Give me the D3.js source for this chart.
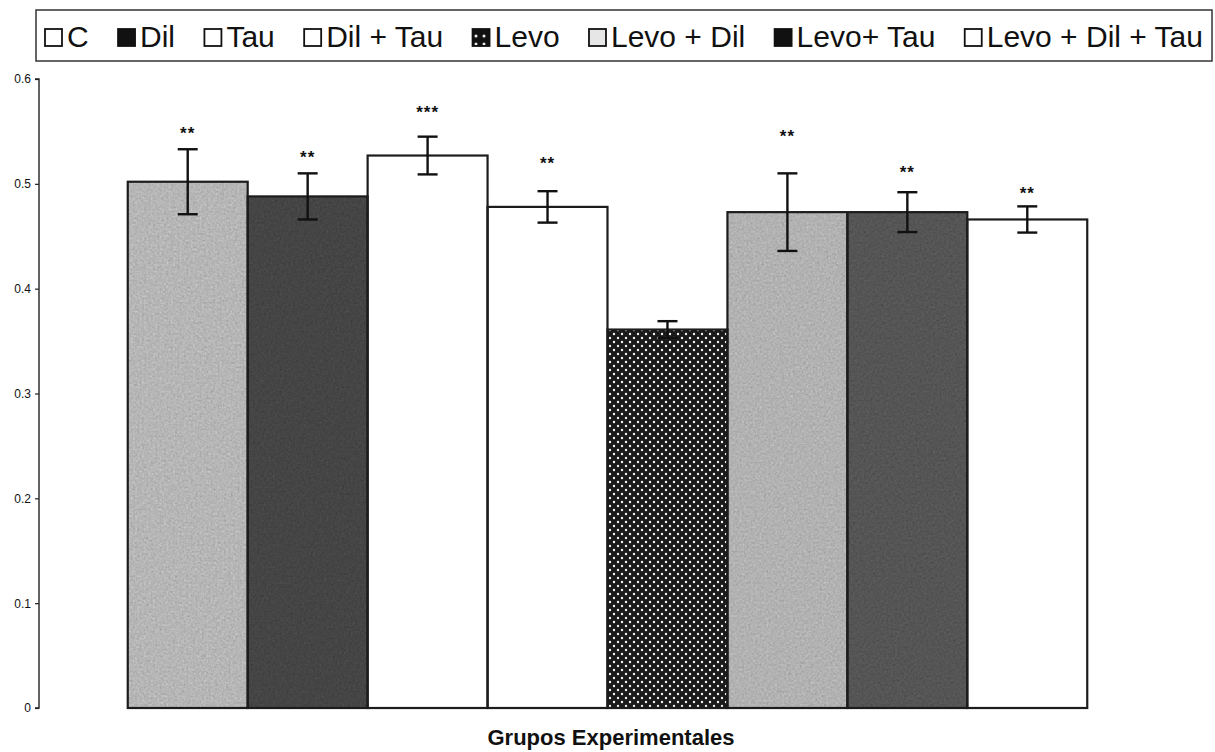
<!DOCTYPE html>
<html>
<head>
<meta charset="utf-8">
<script src="https://cdn.jsdelivr.net/npm/d3@7"></script>
<style>
  html, body { margin: 0; padding: 0; background: #fff; }
  svg { display: block; font-family: "Liberation Sans", Arial, sans-serif; }
</style>
</head>
<body>
<svg id="chart" width="1215" height="752"></svg>
<script>
// ---- data ----
const categories = ["C", "Dil", "Tau", "Dil + Tau", "Levo", "Levo + Dil", "Levo+ Tau", "Levo + Dil + Tau"];
const means      = [0.502, 0.488, 0.527, 0.478, 0.361, 0.473, 0.473, 0.466];
const errors     = [0.031, 0.022, 0.018, 0.015, 0.008, 0.037, 0.019, 0.0125];
const sigLabels  = ["**", "**", "***", "**", "", "**", "**", "**"];
const sigHeights = [0.553, 0.530, 0.573, 0.525, null, 0.550, 0.516, 0.496];
const yTicks     = [0, 0.1, 0.2, 0.3, 0.4, 0.5, 0.6];
const xTitle     = "Grupos Experimentales";

// ---- styles (per category) ----
const baseCols    = ["#b6b6b6", "#454545", "#ffffff", "#ffffff", null, "#b2b2b2", "#555555", "#ffffff"];
const filterIds   = ["nC", "nDil", null, null, null, "nLD", "nLT", null];
const legendFills = ["#ffffff", "#111111", "#ffffff", "#ffffff", "url(#dotsSmall)", "#e6e6e6", "#111111", "#ffffff"];

const svg = d3.select("#chart");
const defs = svg.append("defs");

// noise textures
function noisy(id, amp, freq, seed) {
  const f = defs.append("filter").attr("id", id)
    .attr("x", 0).attr("y", 0).attr("width", 1).attr("height", 1)
    .attr("color-interpolation-filters", "sRGB");
  f.append("feTurbulence").attr("type", "fractalNoise").attr("baseFrequency", freq)
    .attr("numOctaves", 3).attr("seed", seed).attr("result", "noise");
  f.append("feColorMatrix").attr("in", "noise").attr("type", "matrix")
    .attr("values", "0.33 0.33 0.33 0 0  0.33 0.33 0.33 0 0  0.33 0.33 0.33 0 0  0 0 0 0 1")
    .attr("result", "gnoise");
  f.append("feComposite").attr("in", "SourceGraphic").attr("in2", "gnoise").attr("operator", "arithmetic")
    .attr("k1", 0).attr("k2", 1).attr("k3", amp).attr("k4", -amp / 2).attr("result", "mix");
  f.append("feComposite").attr("in", "mix").attr("in2", "SourceGraphic").attr("operator", "in");
}
noisy("nC", 0.32, 0.45, 3);
noisy("nDil", 0.16, 0.45, 5);
noisy("nLD", 0.32, 0.45, 7);
noisy("nLT", 0.18, 0.45, 9);

// dots pattern
const pat = defs.append("pattern").attr("id", "dots").attr("patternUnits", "userSpaceOnUse")
  .attr("width", 8).attr("height", 8);
pat.append("rect").attr("width", 8).attr("height", 8).attr("fill", "#1a1a1a");
pat.append("circle").attr("cx", 2).attr("cy", 2).attr("r", 1.2).attr("fill", "#f4f4f4");
pat.append("circle").attr("cx", 6).attr("cy", 6).attr("r", 1.2).attr("fill", "#f4f4f4");
const pat2 = defs.append("pattern").attr("id", "dotsSmall").attr("patternUnits", "userSpaceOnUse")
  .attr("width", 8).attr("height", 8);
pat2.append("rect").attr("width", 8).attr("height", 8).attr("fill", "#111");
pat2.append("circle").attr("cx", 4).attr("cy", 4).attr("r", 1.5).attr("fill", "#eee");

// ---- scales ----
const x = d3.scaleBand().domain(categories).range([39, 1176]).paddingInner(0).paddingOuter(0.74);
const y = d3.scaleLinear().domain([0, 0.6]).range([708, 79]);

const data = categories.map((c, i) => ({ c, m: means[i], e: errors[i], s: sigLabels[i], h: sigHeights[i], i }));

// ---- bars ----
const bars = svg.append("g");
bars.selectAll("rect.bar").data(data).join("rect").attr("class", "bar")
  .attr("x", d => x(d.c)).attr("y", d => y(d.m))
  .attr("width", x.bandwidth()).attr("height", d => y(0) - y(d.m))
  .attr("fill", d => d.i === 4 ? "url(#dots)" : baseCols[d.i])
  .attr("filter", d => filterIds[d.i] ? `url(#${filterIds[d.i]})` : null);
bars.selectAll("rect.outline").data(data).join("rect").attr("class", "outline")
  .attr("x", d => x(d.c)).attr("y", d => y(d.m))
  .attr("width", x.bandwidth()).attr("height", d => y(0) - y(d.m))
  .attr("fill", "none").attr("stroke", "#1c1c1c").attr("stroke-width", 2.2);

// ---- error bars ----
const eb = svg.append("g").attr("stroke", "#111").attr("stroke-width", 2.4);
data.forEach(d => {
  const cx = x(d.c) + x.bandwidth() / 2;
  eb.append("line").attr("x1", cx).attr("x2", cx).attr("y1", y(d.m + d.e)).attr("y2", y(d.m - d.e));
  eb.append("line").attr("x1", cx - 10).attr("x2", cx + 10).attr("y1", y(d.m + d.e)).attr("y2", y(d.m + d.e));
  eb.append("line").attr("x1", cx - 10).attr("x2", cx + 10).attr("y1", y(d.m - d.e)).attr("y2", y(d.m - d.e));
});

// ---- significance labels ----
svg.append("g").selectAll("text").data(data.filter(d => d.s)).join("text")
  .attr("x", d => x(d.c) + x.bandwidth() / 2)
  .attr("y", d => y(d.h) + 11)
  .attr("text-anchor", "middle")
  .attr("font-size", 17).attr("font-weight", "bold").attr("fill", "#111")
  .attr("letter-spacing", 1)
  .text(d => d.s);

// ---- y axis ----
const yAxis = d3.axisLeft(y).tickValues(yTicks).tickSize(4).tickPadding(4)
  .tickFormat(d => d === 0 ? "0" : d3.format(".1f")(d));
const ya = svg.append("g").attr("transform", "translate(39,0)").call(yAxis);
ya.select(".domain").attr("stroke", "#222").attr("stroke-width", 1.4).attr("d", "M-4,79H0V708H-4");
ya.selectAll(".tick line").attr("stroke", "#222").attr("stroke-width", 1.2);
ya.selectAll(".tick text").attr("font-size", 12).attr("fill", "#111")
  .attr("font-family", "'Liberation Sans', Arial, sans-serif");

// ---- x title ----
svg.append("text").attr("x", 611).attr("y", 745).attr("text-anchor", "middle")
  .attr("font-size", 22).attr("font-weight", "bold").attr("fill", "#111").text(xTitle);

// ---- legend ----
const lg = svg.append("g");
lg.append("rect").attr("x", 36).attr("y", 10).attr("width", 1176).attr("height", 51)
  .attr("fill", "#fff").attr("stroke", "#333").attr("stroke-width", 1.5);
const fs = 30, icon = 17, iconGap = 5, startX = 45, endX = 1203;
const items = lg.selectAll("g.item").data(data).join("g").attr("class", "item");
items.append("rect").attr("class", "ic").attr("width", icon).attr("height", icon).attr("y", 29)
  .attr("fill", d => legendFills[d.i]).attr("stroke", "#111").attr("stroke-width", 1.8);
items.append("text").attr("y", 47).attr("font-size", fs).attr("fill", "#111").text(d => d.c);
const widths = [];
items.select("text").each(function () { widths.push(this.getComputedTextLength()); });
const total = d3.sum(widths) + categories.length * (icon + iconGap);
const gap = (endX - startX - total) / (categories.length - 1);
let cur = startX;
items.each(function (d, i) {
  const g = d3.select(this);
  g.select("rect.ic").attr("x", cur);
  g.select("text").attr("x", cur + icon + iconGap);
  cur += icon + iconGap + widths[i] + gap;
});
</script>
</body>
</html>
